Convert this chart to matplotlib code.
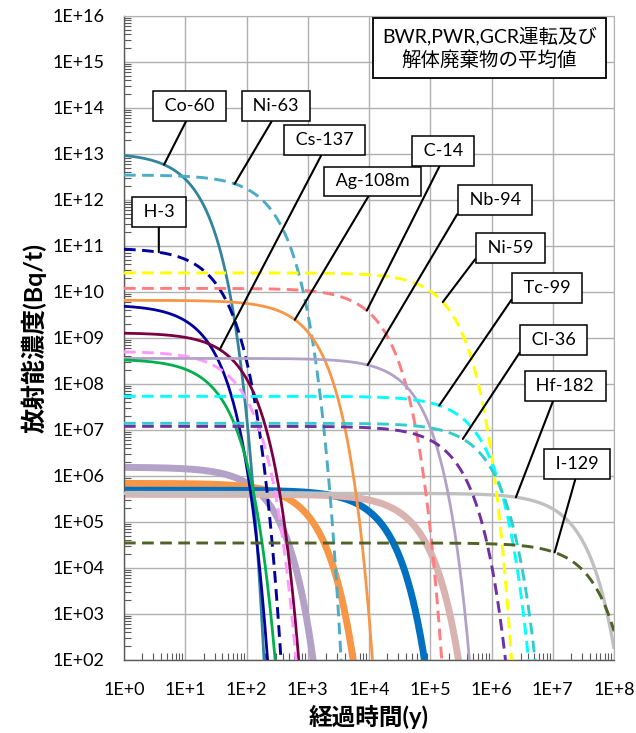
import numpy as np
import matplotlib
matplotlib.use('Agg')
import matplotlib.pyplot as plt
from matplotlib.ticker import LogLocator, NullFormatter

plt.rcParams['font.family'] = ['Lato', 'Noto Sans CJK JP']

# nuclide, concentration at t=0 (Bq/t), half-life (y)
nuclides = ['Pu-238', 'Am-241', 'Pu-240', 'Pu-239', 'Hf-182',
            'Co-60', 'Ni-63', 'H-3', 'Ni-59', 'C-14', 'Ag-108m', 'Eu-154',
            'Cs-137', 'Sr-90', 'Nb-94', 'Eu-152', 'Tc-99', 'Cl-36', 'Ca-41', 'I-129']
initial = [1.55e6, 6.9e5, 4.9e5, 4.0e5, 4.2e5,
           1.06e13, 3.5e12, 9.0e10, 2.6e10, 1.2e10, 6.6e9, 5.3e9,
           1.3e9, 5.1e8, 3.6e8, 3.5e8, 5.4e7, 1.4e7, 1.2e7, 3.5e4]
half_life = [87.7, 432, 6560, 24100, 8.9e6,
             5.27, 100, 12.3, 76000, 5730, 438, 8.6,
             30.1, 28.8, 20000, 13.5, 211000, 301000, 1.0e5, 1.57e7]
colors = ['#B3A2C7', '#F79646', '#0070C0', '#D9B3B0', '#C0C0C0',
          '#31849B', '#4BACC6', '#000099', '#FFFF00', '#FF7C80', '#F79646', '#0000A0',
          '#7B0041', '#FF99FF', '#B3A2C7', '#00B050', '#00FFFF', '#33CCCC', '#7030A0', '#4F6228']
widths = [5.0, 5.0, 5.0, 5.0, 2.4,
          2.0, 2.1, 2.1, 2.1, 2.1, 2.0, 2.0,
          2.0, 2.1, 2.0, 2.0, 2.1, 2.1, 2.1, 2.1]
dashed = [False, False, False, False, False,
          False, True, True, True, True, False, False,
          False, True, False, False, True, True, True, True]

# labelled nuclides: box centre (axes fraction), time the leader points at, leader start on box
labels = ['Co-60', 'Ni-63', 'Cs-137', 'Ag-108m', 'C-14', 'Nb-94', 'Ni-59',
          'Tc-99', 'Cl-36', 'Hf-182', 'I-129', 'H-3']
box_pos = [(0.134, 0.860), (0.310, 0.860), (0.410, 0.807), (0.507, 0.743),
           (0.651, 0.790), (0.757, 0.714), (0.788, 0.640), (0.863, 0.578),
           (0.877, 0.497), (0.900, 0.425), (0.925, 0.304), (0.071, 0.696)]
tip_time = [4.5, 64, 36.5, 615, 9200, 9500, 1.6e5, 1.4e5, 3.4e5, 2.5e6, 1.07e7, 3.7]
relpos = [(0.5, 0), (0.5, 0), (0.5, 0), (0.5, 0), (0.5, 0), (0, 0.4), (0, 0.4),
          (0, 0.42), (0, 0.41), (0.36, 0), (0.5, 0), (0.5, 0)]

x_ticks = [10.0 ** k for k in range(0, 9)]
x_labels = ['1E+%d' % k for k in range(0, 9)]
y_ticks = [10.0 ** k for k in range(2, 17)]
y_labels = ['1E+%02d' % k for k in range(2, 17)]


def activity(a0, half, t):
    return a0 * np.exp(-np.log(2) * t / half)


t = np.logspace(0, 8, 3000)

fig = plt.figure(figsize=(6.36, 7.33), dpi=100)
ax = fig.add_axes([0.195, 0.0996, 0.7705, 0.8786])

for i, name in enumerate(nuclides):
    y = activity(initial[i], half_life[i], t)
    z = 2 if widths[i] > 3 else 3
    if dashed[i]:
        ax.plot(t, y, color=colors[i], lw=widths[i], dashes=(4, 2.2), zorder=z)
    else:
        ax.plot(t, y, color=colors[i], lw=widths[i], zorder=z, solid_capstyle='butt')

ax.set_xscale('log')
ax.set_yscale('log')
ax.set_xlim(1, 1e8)
ax.set_ylim(1e2, 1e16)
ax.set_xticks(x_ticks)
ax.set_xticklabels(x_labels)
ax.set_yticks(y_ticks)
ax.set_yticklabels(y_labels)
ax.xaxis.set_minor_locator(LogLocator(base=10, subs=np.arange(2, 10), numticks=20))
ax.yaxis.set_minor_locator(LogLocator(base=10, subs=np.arange(2, 10), numticks=30))
ax.xaxis.set_minor_formatter(NullFormatter())
ax.yaxis.set_minor_formatter(NullFormatter())
ax.tick_params(which='major', length=0, labelsize=13)
ax.tick_params(axis='x', which='major', pad=16)
ax.tick_params(axis='y', which='major', pad=14)
ax.tick_params(which='minor', direction='in', length=5, width=0.8, color='#595959')
ax.grid(which='major', color='#B0B0B0', lw=1.0)
ax.set_axisbelow(True)
for s in ['left', 'bottom']:
    ax.spines[s].set_color('#595959')
    ax.spines[s].set_linewidth(1.0)
for s in ['top', 'right']:
    ax.spines[s].set_color('#B0B0B0')

ax.set_xlabel('経過時間(y)', fontsize=17, fontweight='bold', labelpad=5)
ax.set_ylabel('放射能濃度(Bq/t)', fontsize=18, fontweight='bold', labelpad=4)

for i, name in enumerate(labels):
    k = nuclides.index(name)
    tip = (tip_time[i], activity(initial[k], half_life[k], tip_time[i]))
    ax.annotate(' ' + name + ' ', xy=tip, xycoords='data', xytext=box_pos[i],
                textcoords='axes fraction', ha='center', va='center', fontsize=13, zorder=6,
                bbox=dict(boxstyle='square,pad=0.38', fc='white', ec='black', lw=1.1),
                arrowprops=dict(arrowstyle='-', color='black', lw=1.5, relpos=relpos[i],
                                shrinkA=0, shrinkB=0))

ax.text(0.746, 0.951, 'BWR,PWR,GCR運転及び\n解体廃棄物の平均値', transform=ax.transAxes,
        ha='center', va='center', fontsize=14, linespacing=1.3, zorder=6,
        bbox=dict(boxstyle='square,pad=0.45', fc='white', ec='black', lw=1.3))

fig.savefig('out.png', dpi=100)
